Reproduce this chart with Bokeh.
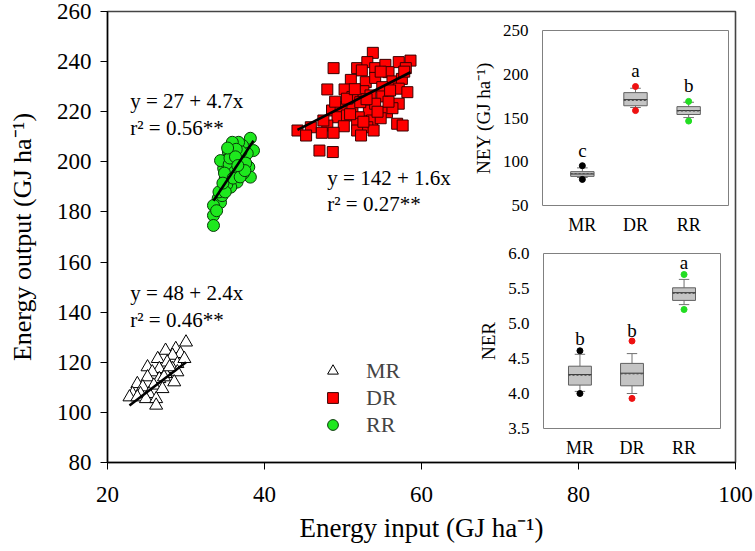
from bokeh.plotting import figure
from bokeh.models import (Range1d, LinearAxis, FixedTicker, Legend, LegendItem,
                          PrintfTickFormatter)
from bokeh.core.properties import value
from bokeh.embed import file_html
from bokeh.resources import INLINE

# ---------------- data: main scatter ----------------
mr_x = [30.0, 28.7, 27.4, 29.3, 28.3, 26.4, 27.6, 28.9, 25.1, 26.6, 28.3, 25.7, 27.4, 28.9,
        25.1, 26.6, 28.5, 23.8, 24.5, 25.9, 27.0, 23.2, 24.2, 25.3, 22.8, 23.8, 24.9, 26.2,
        26.2, 27.2, 27.9, 29.8]
mr_y = [128.0, 125.4, 124.7, 123.4, 122.7, 121.4, 120.0, 119.4, 118.1, 117.4, 117.4, 116.1,
        115.4, 116.1, 114.1, 113.4, 112.1, 111.4, 110.1, 110.8, 109.4, 107.4, 107.4, 107.4,
        106.1, 106.1, 105.4, 105.4, 102.8, 114.1, 118.1, 121.4]

dr_x = [53.8, 48.8, 51.8, 53.1, 52.4, 54.1, 55.4, 57.1, 58.6, 58.0, 55.8, 51.0, 52.9, 54.1,
        56.3, 57.5, 48.0, 50.2, 52.6, 55.0, 57.1, 58.2, 53.5, 55.0, 57.1, 48.6, 49.7, 51.2,
        53.3, 55.6, 56.3, 49.3, 50.5, 52.0, 53.7, 54.8, 56.9, 48.0, 50.1, 51.8, 53.1, 44.2,
        45.9, 47.3, 48.8, 51.8, 53.9, 45.3, 57.6, 47.0, 48.7, 51.2, 52.2, 54.1, 50.5, 50.9,
        52.6, 54.4, 55.8, 53.0, 51.5, 56.0, 49.0, 47.5, 52.3, 57.8, 54.8]
dr_y = [243.5, 237.4, 237.4, 239.8, 236.5, 237.4, 238.7, 239.8, 240.4, 237.4, 235.8, 232.7,
        231.8, 233.5, 232.1, 233.1, 228.9, 228.9, 228.2, 229.8, 229.2, 227.8, 226.5, 226.1,
        223.2, 220.5, 221.8, 221.2, 220.5, 219.8, 221.4, 217.8, 218.5, 217.8, 216.5, 217.4,
        215.2, 214.5, 214.2, 215.2, 213.8, 212.5, 213.8, 211.6, 211.6, 212.5, 212.5, 210.5,
        214.5, 204.5, 203.9, 225.9, 223.8, 223.2, 225.2, 219.0, 216.0, 220.0, 224.0, 225.0,
        229.0, 228.5, 224.0, 216.5, 210.5, 236.0, 236.0]

rr_x = [38.2, 38.6, 36.1, 35.4, 37.2, 36.5, 35.0, 37.3, 38.0, 38.2, 37.3, 35.9, 34.8, 35.0,
        36.5, 35.7, 34.6, 34.1, 34.4, 33.5, 33.5, 33.5, 35.2, 36.9, 36.0, 34.4, 37.8, 36.7,
        35.9, 35.5, 36.2, 36.8, 35.8, 34.9, 37.0, 36.4, 35.2, 34.6, 36.0, 37.6, 35.6, 36.9,
        34.2, 35.0, 33.9, 36.3, 35.3, 37.5, 34.7, 36.6]
rr_y = [209.4, 204.5, 205.8, 203.9, 206.5, 202.5, 200.5, 201.3, 197.9, 193.9, 195.4, 197.4,
        197.4, 193.4, 191.9, 189.9, 188.6, 185.4, 183.8, 182.6, 178.6, 174.6, 193.9, 197.4,
        199.3, 200.5, 203.3, 207.8, 207.8, 199.0, 196.0, 200.0, 203.0, 195.5, 204.0, 205.0,
        191.0, 186.5, 193.5, 199.5, 201.5, 194.0, 188.0, 188.0, 180.5, 202.0, 205.5, 196.5,
        191.5, 198.5]

# regression fits (intercept, slope) and r2 labels
fit_intercept = [48, 142, 27]
fit_slope = [2.4, 1.6, 4.7]
fit_r2 = ["0.46", "0.27", "0.56"]
# equation label anchor (data units)
eq_x = [22.9, 48.0, 22.9]
eq_y = [147.5, 193.4, 224.1]
r2_y = [136.7, 183.0, 213.7]

x_ticks = [20, 40, 60, 80, 100]
y_ticks = [80, 100, 120, 140, 160, 180, 200, 220, 240, 260]

# ---------------- data: insets ----------------
categories = ["MR", "DR", "RR"]
cat_pos = [1, 2, 3]
cat_colors = ["black", "#ee1111", "#22dd22"]

ney_lo = [82.0, 162.0, 150.5]
ney_q1 = [83.3, 164.0, 154.0]
ney_med = [86.0, 171.0, 158.5]
ney_mean = [86.5, 170.0, 158.0]
ney_q3 = [88.7, 179.0, 163.0]
ney_hi = [93.0, 184.0, 168.0]
ney_out_lo = [79.8, 158.5, 146.5]
ney_out_hi = [95.5, 186.0, 169.0]
ney_letters = ["c", "a", "b"]
ney_letter_y = [113, 204, 187]
ney_ticks = [50, 100, 150, 200, 250]

ner_lo = [4.03, 4.00, 5.27]
ner_q1 = [4.12, 4.11, 5.33]
ner_med = [4.27, 4.29, 5.44]
ner_mean = [4.26, 4.28, 5.43]
ner_q3 = [4.39, 4.43, 5.51]
ner_hi = [4.56, 4.57, 5.63]
ner_out_lo = [4.00, 3.93, 5.20]
ner_out_hi = [4.61, 4.75, 5.70]
ner_letters = ["b", "b", "a"]
ner_letter_y = [4.79, 4.90, 5.87]
ner_ticks = [3.5, 4.0, 4.5, 5.0, 5.5, 6.0]

SERIF = "Liberation Serif"

# ---------------- layout (pixels within the figure canvas) ----------------
W, H = 753, 549
FL, FR, FT, FB = 107, 735, 11, 462


def lin_range(va, pa, vb, pb, p_start, p_end):
    k = (vb - va) / (pb - pa)
    return Range1d(start=va + (p_start - pa) * k, end=va + (p_end - pa) * k)


p = figure(width=W, height=H, x_range=Range1d(20, 100), y_range=Range1d(80, 260),
           output_backend="svg", toolbar_location=None,
           min_border_left=FL, min_border_right=W - FR,
           min_border_top=FT, min_border_bottom=H - FB,
           x_axis_label="Energy input (GJ ha\u207b\u00b9)",
           y_axis_label="Energy output (GJ ha\u207b\u00b9)")
p.grid.visible = False
p.outline_line_color = "#444444"
p.outline_line_width = 1.6
p.background_fill_color = "white"
p.border_fill_color = "white"

for ax, ticks in ((p.xaxis[0], x_ticks), (p.yaxis[0], y_ticks)):
    ax.ticker = FixedTicker(ticks=ticks)
    ax.minor_tick_line_color = None
    ax.major_tick_in = 0
    ax.major_tick_out = 7
    ax.major_tick_line_color = "black"
    ax.axis_line_color = "black"
    ax.axis_line_width = 1.4
    ax.major_label_text_font = SERIF
    ax.major_label_text_font_size = "23px"
    ax.major_label_text_color = "black"
    ax.axis_label_text_font = SERIF
    ax.axis_label_text_font_style = "normal"
    ax.axis_label_text_color = "black"
p.xaxis[0].axis_label_text_font_size = "27px"
p.yaxis[0].axis_label_text_font_size = "26px"
p.xaxis[0].major_label_standoff = 17
p.xaxis[0].axis_label_standoff = 8
p.yaxis[0].major_label_standoff = 9
p.yaxis[0].axis_label_standoff = 17

# scatter
r_mr = p.scatter(mr_x, mr_y, marker="triangle", size=13, fill_color="white",
                 line_color="black", line_width=1)
r_dr = p.scatter(dr_x, dr_y, marker="square", size=11, fill_color="#ff0000",
                 line_color="#3a0000", line_width=1)
r_rr = p.scatter(rr_x, rr_y, marker="circle", size=12, fill_color="#1ee81e",
                 line_color="#0a3a0a", line_width=1)

# regression lines over each group's x range
for xs, b0, b1 in ((mr_x, fit_intercept[0], fit_slope[0]),
                   (dr_x, fit_intercept[1], fit_slope[1]),
                   (rr_x, fit_intercept[2], fit_slope[2])):
    x0, x1 = min(xs), max(xs)
    p.line([x0, x1], [b0 + b1 * x0, b0 + b1 * x1], line_color="black", line_width=2.6)

eq_text = ["y = %d + %.1fx" % (a, b) for a, b in zip(fit_intercept, fit_slope)]
r2_text = ["r\u00b2 = %s**" % r for r in fit_r2]
p.text(eq_x, eq_y, text=eq_text, text_font=value(SERIF), text_font_size="21px",
       text_baseline="middle", text_align="left", text_color="black")
p.text(eq_x, r2_y, text=r2_text, text_font=value(SERIF), text_font_size="21px",
       text_baseline="middle", text_align="left", text_color="black")

legend = Legend(items=[LegendItem(label="MR", renderers=[r_mr]),
                       LegendItem(label="DR", renderers=[r_dr]),
                       LegendItem(label="RR", renderers=[r_rr])],
                location=(212, 24), orientation="vertical",
                background_fill_alpha=0, border_line_color=None,
                label_text_font=SERIF, label_text_font_size="22px",
                glyph_width=27, glyph_height=27, label_height=27, spacing=0,
                padding=0, margin=0, label_standoff=20)
p.add_layout(legend)

# ---------------- insets ----------------
p.extra_x_ranges = {
    "ix1": lin_range(0.25, 542, 3.75, 728, FL, FR),
    "ix2": lin_range(0.30, 543, 3.70, 720, FL, FR),
}
p.extra_y_ranges = {
    "ney": lin_range(250, 30, 50, 205, FB, FT),
    "ner": lin_range(6.0, 253, 3.5, 428, FB, FT),
}


def inset(xr, yr, x_lim, y_lim, lo, q1, med, mean, q3, hi, olo, ohi,
          letters, letter_y, ticks, label, fmt=None):
    kw = dict(x_range_name=xr, y_range_name=yr)
    p.quad(left=x_lim[0], right=x_lim[1], bottom=y_lim[0], top=y_lim[1],
           fill_color="white", line_color="#808080", line_width=1, **kw)
    half_cap = 0.1
    p.segment(cat_pos, q3, cat_pos, hi, line_color="#707070", line_width=1, **kw)
    p.segment(cat_pos, q1, cat_pos, lo, line_color="#707070", line_width=1, **kw)
    p.segment([c - half_cap for c in cat_pos], hi, [c + half_cap for c in cat_pos], hi,
              line_color="#707070", line_width=1, **kw)
    p.segment([c - half_cap for c in cat_pos], lo, [c + half_cap for c in cat_pos], lo,
              line_color="#707070", line_width=1, **kw)
    p.vbar(x=cat_pos, width=0.44, bottom=q1, top=q3, fill_color="#c4c4c4",
           line_color="#606060", line_width=1, **kw)
    p.segment([c - 0.22 for c in cat_pos], med, [c + 0.22 for c in cat_pos], med,
              line_color="#303030", line_width=1, **kw)
    p.segment([c - 0.22 for c in cat_pos], mean, [c + 0.22 for c in cat_pos], mean,
              line_color="#505050", line_width=1, line_dash="2 2", **kw)
    p.scatter(cat_pos, olo, marker="circle", size=6, color=cat_colors, **kw)
    p.scatter(cat_pos, ohi, marker="circle", size=6, color=cat_colors, **kw)
    p.text(cat_pos, letter_y, text=letters, text_font=value(SERIF),
           text_font_size="19px", text_align="center", text_baseline="middle",
           text_color="black", **kw)

    yax = LinearAxis(fixed_location=x_lim[0], bounds=tuple(y_lim),
                     ticker=FixedTicker(ticks=ticks), axis_label=label, **kw)
    if fmt is not None:
        yax.formatter = fmt
    xax = LinearAxis(fixed_location=y_lim[0], bounds=tuple(x_lim),
                     ticker=FixedTicker(ticks=cat_pos),
                     major_label_overrides={c: n for c, n in zip(cat_pos, categories)},
                     **kw)
    for ax in (yax, xax):
        ax.axis_line_color = None
        ax.major_tick_line_color = None
        ax.minor_tick_line_color = None
        ax.major_label_text_font = SERIF
        ax.major_label_text_color = "black"
        ax.axis_label_text_font = SERIF
        ax.axis_label_text_font_style = "normal"
        ax.axis_label_text_color = "black"
    yax.major_label_text_font_size = "17px"
    xax.major_label_text_font_size = "18px"
    yax.axis_label_text_font_size = "19px"
    yax.major_label_standoff = 8
    xax.major_label_standoff = 3
    yax.axis_label_standoff = 6
    p.add_layout(yax, "left")
    p.add_layout(xax, "below")


inset("ix1", "ney", (0.25, 3.75), (50, 250), ney_lo, ney_q1, ney_med, ney_mean, ney_q3,
      ney_hi, ney_out_lo, ney_out_hi, ney_letters, ney_letter_y, ney_ticks,
      "NEY (GJ ha\u207b\u00b9)")
inset("ix2", "ner", (0.30, 3.70), (3.5, 6.0), ner_lo, ner_q1, ner_med, ner_mean, ner_q3,
      ner_hi, ner_out_lo, ner_out_hi, ner_letters, ner_letter_y, ner_ticks,
      "NER", PrintfTickFormatter(format="%.1f"))

open("out.html", "w").write(file_html(p, INLINE))
